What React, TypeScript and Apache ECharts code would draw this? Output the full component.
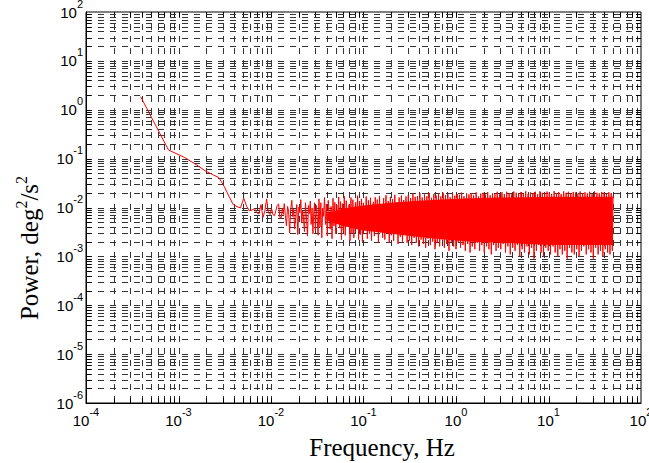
import React, { useEffect, useRef } from "react";
import * as echarts from "echarts";

// Axis ranges (decade exponents)
const xDecades = [-4, -3, -2, -1, 0, 1];
const yDecades = [-6, -5, -4, -3, -2, -1, 0, 1];
const gridMultipliers = [1, 2, 3, 4, 5, 6, 7, 8, 9];
const xMin = 1e-4;
const xMax = 1e2;
const yMin = 1e-6;
const yMax = 1e2;

// Power spectrum, low-frequency part [Hz, deg^2/s^2]
const lowFreqPts: [number, number][] = [
  [3.9e-4, 1.85], [7.8e-4, 0.15], [1.17e-3, 0.105], [1.56e-3, 0.075],
  [1.95e-3, 0.056], [2.34e-3, 0.047], [2.73e-3, 0.041], [3.12e-3, 0.027],
  [3.51e-3, 0.017], [3.9e-3, 0.0115], [4.29e-3, 0.0104], [4.68e-3, 0.0098],
  [5.07e-3, 0.0155], [5.46e-3, 0.0105], [5.85e-3, 0.0085], [6.24e-3, 0.0089],
  [6.63e-3, 0.0095], [7.02e-3, 0.0078], [7.41e-3, 0.0074], [7.8e-3, 0.0115],
  [8.19e-3, 0.0063], [8.58e-3, 0.0085], [8.97e-3, 0.015], [9.36e-3, 0.0078],
  [9.75e-3, 0.0072], [1.014e-2, 0.0095], [1.053e-2, 0.0071], [1.092e-2, 0.0068],
  [1.131e-2, 0.0088], [1.17e-2, 0.0112], [1.209e-2, 0.0118], [1.248e-2, 0.0062],
];

// Noisy part, 0.013 - 0.03 Hz
const noiseA: [number, number][] = [
  [0.0129, 0.0062], [0.0133, 0.0098], [0.0136, 0.0072], [0.0139, 0.012],
  [0.0143, 0.0068], [0.0147, 0.0042], [0.0151, 0.0105], [0.0155, 0.0085],
  [0.0159, 0.003], [0.0163, 0.0088], [0.0168, 0.014], [0.0172, 0.0065],
  [0.0176, 0.0092], [0.018, 0.0036], [0.0185, 0.0062], [0.019, 0.0115],
  [0.0195, 0.0028], [0.02, 0.0102], [0.0205, 0.0078], [0.021, 0.0145],
  [0.0215, 0.0048], [0.022, 0.0085], [0.0225, 0.0058], [0.023, 0.0032],
  [0.0236, 0.0125], [0.0242, 0.006], [0.0248, 0.0026], [0.0254, 0.011],
  [0.026, 0.0075], [0.0266, 0.0135], [0.0272, 0.0045], [0.0278, 0.0098],
  [0.0284, 0.0029], [0.029, 0.0082], [0.0296, 0.0125],
];

// 0.03 - 0.3 Hz
const noiseB: [number, number][] = [
  [0.0302, 0.0034], [0.0309, 0.011], [0.0316, 0.0058], [0.0323, 0.0027],
  [0.033, 0.015], [0.0338, 0.004], [0.0346, 0.0125], [0.0354, 0.0024],
  [0.0362, 0.0098], [0.037, 0.0066], [0.0379, 0.016], [0.0388, 0.0045],
  [0.0397, 0.0118], [0.0406, 0.0026], [0.0416, 0.014], [0.0426, 0.0072],
  [0.0436, 0.0036], [0.0446, 0.0105], [0.0457, 0.0023], [0.0468, 0.0155],
  [0.0479, 0.0042], [0.049, 0.0128], [0.0502, 0.0029], [0.0514, 0.0112],
  [0.0526, 0.0055], [0.0539, 0.0165], [0.0552, 0.0038], [0.0565, 0.0132],
  [0.0578, 0.0022], [0.0592, 0.012], [0.0606, 0.0033], [0.062, 0.017],
  [0.0635, 0.0027], [0.065, 0.0138], [0.0666, 0.0068], [0.0682, 0.0041],
  [0.0698, 0.0115], [0.0715, 0.0021], [0.0732, 0.016], [0.075, 0.003],
  [0.0768, 0.0145], [0.0786, 0.0024], [0.0805, 0.0095], [0.0824, 0.0128],
  [0.0844, 0.0036], [0.0864, 0.0175], [0.0885, 0.0022], [0.0906, 0.0135],
  [0.0928, 0.0028], [0.095, 0.015], [0.0973, 0.002], [0.0996, 0.0125],
  [0.102, 0.0062], [0.104, 0.0034], [0.107, 0.0168], [0.11, 0.0023],
  [0.113, 0.014], [0.116, 0.0029], [0.119, 0.0158], [0.122, 0.0021],
  [0.125, 0.0098], [0.128, 0.013], [0.131, 0.0026], [0.134, 0.0162],
  [0.137, 0.0035], [0.141, 0.0145], [0.145, 0.0019], [0.149, 0.0172],
  [0.153, 0.0031], [0.157, 0.0118], [0.161, 0.0024], [0.165, 0.0155],
  [0.17, 0.0022], [0.175, 0.0178], [0.18, 0.0033], [0.185, 0.0135],
  [0.19, 0.0019], [0.195, 0.0165], [0.2, 0.0027], [0.206, 0.0148],
  [0.212, 0.0021], [0.218, 0.0182], [0.224, 0.0038], [0.23, 0.0128],
  [0.236, 0.0018], [0.243, 0.016], [0.25, 0.0025], [0.257, 0.0175],
  [0.264, 0.002], [0.272, 0.0142], [0.28, 0.0029], [0.288, 0.0168],
  [0.296, 0.0019],
];

// 0.3 - 3 Hz
const noiseC: [number, number][] = [
  [0.305, 0.018], [0.314, 0.0021], [0.323, 0.0155], [0.332, 0.0017],
  [0.342, 0.019], [0.352, 0.0024], [0.362, 0.0165], [0.373, 0.0019],
  [0.384, 0.0172], [0.395, 0.0016], [0.407, 0.0195], [0.419, 0.0022],
  [0.431, 0.016], [0.444, 0.0018], [0.457, 0.0185], [0.47, 0.0015],
  [0.484, 0.017], [0.498, 0.0023], [0.513, 0.0198], [0.528, 0.0017],
  [0.544, 0.0158], [0.56, 0.002], [0.576, 0.0188], [0.593, 0.0014],
  [0.61, 0.0175], [0.628, 0.0019], [0.647, 0.0192], [0.666, 0.0016],
  [0.686, 0.0168], [0.706, 0.0022], [0.727, 0.02], [0.748, 0.0015],
  [0.77, 0.0178], [0.793, 0.0018], [0.816, 0.0186], [0.84, 0.0013],
  [0.865, 0.0162], [0.89, 0.002], [0.916, 0.0196], [0.943, 0.0016],
  [0.971, 0.0174], [1.0, 0.0014], [1.03, 0.019], [1.06, 0.0019],
  [1.09, 0.0182], [1.12, 0.0015], [1.15, 0.0202], [1.19, 0.0017],
  [1.22, 0.017], [1.26, 0.0013], [1.3, 0.0194], [1.34, 0.0018],
  [1.38, 0.0185], [1.42, 0.0012], [1.46, 0.0198], [1.5, 0.0016],
  [1.55, 0.0176], [1.6, 0.0014], [1.65, 0.0204], [1.7, 0.0019],
  [1.75, 0.0168], [1.8, 0.0013], [1.85, 0.0192], [1.9, 0.0017],
  [1.96, 0.02], [2.02, 0.0012], [2.08, 0.0184], [2.14, 0.0016],
  [2.2, 0.0206], [2.27, 0.0014], [2.34, 0.0178], [2.41, 0.0011],
  [2.48, 0.0196], [2.55, 0.0017], [2.63, 0.0188], [2.71, 0.0013],
  [2.79, 0.021], [2.87, 0.0015], [2.96, 0.0185],
];

// 3 - 50 Hz
const noiseD: [number, number][] = [
  [3.05, 0.0014], [3.14, 0.0205], [3.23, 0.0018], [3.33, 0.0188],
  [3.43, 0.0012], [3.53, 0.021], [3.64, 0.0016], [3.75, 0.0198],
  [3.86, 0.0011], [3.98, 0.0185], [4.1, 0.0015], [4.22, 0.0212],
  [4.35, 0.0013], [4.48, 0.02], [4.61, 0.0017], [4.75, 0.0192],
  [4.89, 0.001], [5.04, 0.0208], [5.19, 0.0014], [5.35, 0.0196],
  [5.51, 0.0012], [5.67, 0.0215], [5.84, 0.0016], [6.02, 0.019],
  [6.2, 0.0011], [6.38, 0.0204], [6.57, 0.0015], [6.77, 0.0198],
  [6.97, 0.0009], [7.18, 0.021], [7.4, 0.0013], [7.62, 0.0186],
  [7.85, 0.0017], [8.08, 0.0214], [8.32, 0.0012], [8.57, 0.02],
  [8.83, 0.001], [9.09, 0.0194], [9.36, 0.0015], [9.64, 0.0212],
  [9.93, 0.0013], [10.2, 0.0202], [10.5, 0.0011], [10.8, 0.019],
  [11.2, 0.0016], [11.5, 0.0216], [11.8, 0.0012], [12.2, 0.0198],
  [12.6, 0.001], [12.9, 0.0206], [13.3, 0.0014], [13.7, 0.0188],
  [14.1, 0.0011], [14.6, 0.0214], [15.0, 0.0013], [15.5, 0.02],
  [15.9, 0.0009], [16.4, 0.021], [16.9, 0.0015], [17.4, 0.0196],
  [17.9, 0.0012], [18.5, 0.0208], [19.0, 0.0011], [19.6, 0.0202],
  [20.2, 0.0014], [20.8, 0.0192], [21.4, 0.001], [22.0, 0.0212],
  [22.7, 0.0013], [23.4, 0.0198], [24.1, 0.0016], [24.8, 0.0205],
  [25.6, 0.0011], [26.3, 0.0194], [27.1, 0.0014], [27.9, 0.021],
  [28.8, 0.0012], [29.6, 0.0188], [30.5, 0.0009], [31.4, 0.0214],
  [32.4, 0.0015], [33.4, 0.02], [34.4, 0.0011], [35.4, 0.0196],
  [36.5, 0.0013], [37.6, 0.0208], [38.7, 0.001], [39.9, 0.0202],
  [41.1, 0.0014], [42.3, 0.0192], [43.6, 0.0012], [44.9, 0.0206],
  [46.2, 0.0011], [47.6, 0.0198], [49.0, 0.0013], [50.0, 0.0175],
];

// Solid core of the noise band
const bandF = [0.04, 0.06, 0.1, 0.2, 0.4, 0.8, 1.5, 3, 6, 12, 25, 49.5];
const bandHi = [0.0075, 0.0095, 0.011, 0.0125, 0.0138, 0.0148, 0.0155, 0.016, 0.0163, 0.0165, 0.0165, 0.0165];
const bandLo = [0.0055, 0.0042, 0.0034, 0.0029, 0.0025, 0.0022, 0.002, 0.0019, 0.0018, 0.0017, 0.0017, 0.0017];

const xTitle = "Frequency, Hz";
const yTitle = "{n|Power, deg}{p|2}{n|/s}{p|2}";

const LABEL_FONT = "'Liberation Sans', Arial, sans-serif";
const TITLE_FONT = "'Liberation Serif', 'Times New Roman', serif";

export default function App() {
  const ref = useRef<HTMLDivElement>(null);

  useEffect(() => {
    if (!ref.current) return;
    const chart = echarts.init(ref.current, undefined, { renderer: "svg" });

    const expLabel = (v: number) => `{b|10}{s|${Math.round(Math.log10(v))}}`;
    const labelRich = {
      b: { fontSize: 15, fontFamily: LABEL_FONT, color: "#000", lineHeight: 28, verticalAlign: "middle" },
      s: { fontSize: 11, fontFamily: LABEL_FONT, color: "#000", lineHeight: 12, verticalAlign: "top" },
    };

    const gridColor = "#333";
    const dash = [6, 6];

    const renderGrid = (params: any, api: any) => {
      if (params.dataIndex !== 0) return null;
      const cs = params.coordSys;
      const left = cs.x;
      const top = cs.y;
      const right = cs.x + cs.width;
      const bottom = cs.y + cs.height;
      const children: any[] = [];
      const tick = 5;
      for (const e of xDecades) {
        for (const m of gridMultipliers) {
          const v = m * Math.pow(10, e);
          const px = Math.round(api.coord([v, yMin])[0]) + 0.5;
          if (v > xMin * 1.001) {
            children.push({
              type: "line",
              shape: { x1: px, y1: top, x2: px, y2: bottom },
              style: { stroke: gridColor, lineWidth: 1, lineDash: dash },
            });
          }
          children.push({ type: "line", shape: { x1: px, y1: bottom, x2: px, y2: bottom - tick }, style: { stroke: "#000", lineWidth: 1 } });
          children.push({ type: "line", shape: { x1: px, y1: top, x2: px, y2: top + tick }, style: { stroke: "#000", lineWidth: 1 } });
        }
      }
      for (const e of yDecades) {
        for (const m of gridMultipliers) {
          const v = m * Math.pow(10, e);
          const py = Math.round(api.coord([xMin, v])[1]) + 0.5;
          if (v > yMin * 1.001) {
            children.push({
              type: "line",
              shape: { x1: left, y1: py, x2: right, y2: py },
              style: { stroke: gridColor, lineWidth: 1, lineDash: dash },
            });
          }
          children.push({ type: "line", shape: { x1: left, y1: py, x2: left + tick, y2: py }, style: { stroke: "#000", lineWidth: 1 } });
          children.push({ type: "line", shape: { x1: right, y1: py, x2: right - tick, y2: py }, style: { stroke: "#000", lineWidth: 1 } });
        }
      }
      return { type: "group", children };
    };

    const renderBand = (params: any, api: any) => {
      if (params.dataIndex !== 0) return null;
      const upper = bandF.map((f, i) => api.coord([f, bandHi[i]]));
      const lower = bandF.map((f, i) => api.coord([f, bandLo[i]])).reverse();
      return {
        type: "polygon",
        shape: { points: upper.concat(lower) },
        style: { fill: "#ff0000" },
      };
    };

    const lineData = [...lowFreqPts, ...noiseA, ...noiseB, ...noiseC, ...noiseD];

    chart.setOption({
      animation: false,
      backgroundColor: "#fff",
      grid: {
        left: 86,
        top: 12,
        right: 8,
        bottom: 60,
        show: true,
        borderColor: "#000",
        borderWidth: 1,
        containLabel: false,
        outerBoundsMode: "none",
      },
      graphic: [
        {
          type: "text",
          x: 382,
          y: 447,
          silent: true,
          style: {
            text: xTitle,
            fontFamily: TITLE_FONT,
            fontSize: 25,
            fill: "#000",
            align: "center",
            verticalAlign: "middle",
          },
        },
        {
          type: "text",
          x: 29,
          y: 248,
          rotation: Math.PI / 2,
          silent: true,
          style: {
            text: yTitle,
            align: "center",
            verticalAlign: "middle",
            fill: "#000",
            rich: {
              n: { fontFamily: TITLE_FONT, fontSize: 25, fill: "#000", lineHeight: 32, verticalAlign: "middle" },
              p: { fontFamily: TITLE_FONT, fontSize: 16, fill: "#000", lineHeight: 16, verticalAlign: "top" },
            },
          },
        },
      ],
      xAxis: {
        type: "log",
        logBase: 10,
        min: xMin,
        max: xMax,
        axisLine: { show: true, lineStyle: { color: "#000", width: 1 } },
        axisTick: { show: false },
        splitLine: { show: false },
        minorSplitLine: { show: false },
        axisLabel: { formatter: expLabel, rich: labelRich, margin: 3, showMinLabel: true, showMaxLabel: true },
      },
      yAxis: {
        type: "log",
        logBase: 10,
        min: yMin,
        max: yMax,
        axisLine: { show: true, lineStyle: { color: "#000", width: 1 } },
        axisTick: { show: false },
        splitLine: { show: false },
        axisLabel: { formatter: expLabel, rich: labelRich, margin: 3, showMinLabel: true, showMaxLabel: true },
      },
      series: [
        {
          type: "custom",
          renderItem: renderGrid,
          data: [[1, 1]],
          silent: true,
          z: 1,
        },
        {
          type: "custom",
          renderItem: renderBand,
          data: [[1, 1]],
          silent: true,
          z: 2,
        },
        {
          type: "line",
          data: lineData,
          showSymbol: false,
          symbol: "none",
          lineStyle: { color: "#ff0000", width: 1 },
          itemStyle: { color: "#ff0000" },
          silent: true,
          z: 3,
        },
      ],
    });

    return () => chart.dispose();
  }, []);

  return (
    <div
      ref={ref}
      style={{ position: "fixed", left: 0, top: 0, width: 649, height: 463, background: "#fff" }}
    />
  );
}
